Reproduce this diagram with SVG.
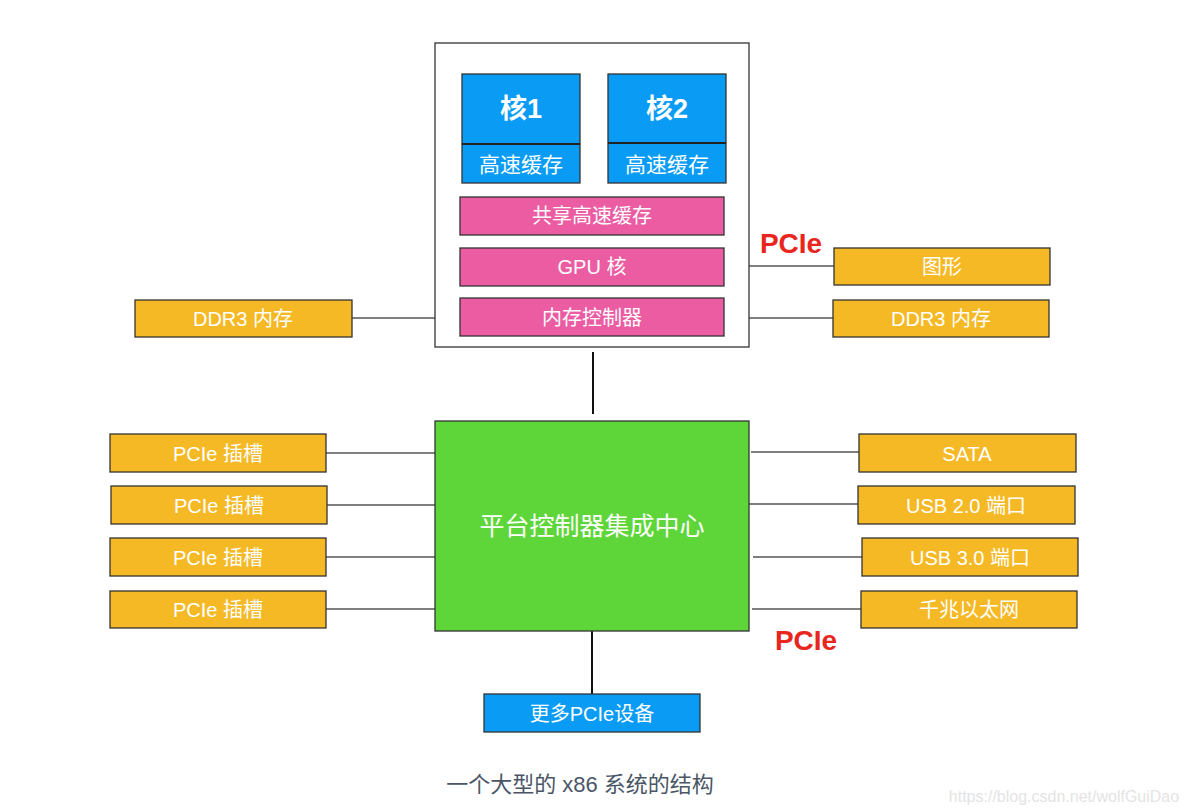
<svg xmlns="http://www.w3.org/2000/svg" width="1188" height="812" viewBox="0 0 1188 812">
<style>
text{font-family:"Liberation Sans","Noto Sans CJK SC",sans-serif;text-anchor:middle;dominant-baseline:central;fill:#fff}
.blue{fill:#0a9cf5;stroke:#333;stroke-width:1.3}
.pink{fill:#ec5ca2;stroke:#333;stroke-width:1.3}
.org{fill:#f5b926;stroke:#333;stroke-width:1.3}
.grn{fill:#5ed63a;stroke:#333;stroke-width:1.3}
.lbl{font-size:20px}
.ln{stroke:#555;stroke-width:1.3;fill:none}
.pcie{fill:#e8261e;font-size:28px;font-weight:bold}
</style>
<rect width="1188" height="812" fill="#fff"/>
<g id="connectors">
<line class="ln" x1="352" y1="318" x2="460" y2="318"/>
<line class="ln" x1="724" y1="318" x2="833" y2="318"/>
<line class="ln" x1="724" y1="266" x2="834" y2="266"/>
<line x1="593" y1="352" x2="593" y2="414" stroke="#111" stroke-width="2"/>
<line x1="592" y1="631" x2="592" y2="694" stroke="#111" stroke-width="2"/>
<line class="ln" x1="326" y1="453" x2="435" y2="453"/>
<line class="ln" x1="327" y1="505" x2="435" y2="505"/>
<line class="ln" x1="326" y1="557" x2="435" y2="557"/>
<line class="ln" x1="326" y1="609" x2="435" y2="609"/>
<line class="ln" x1="751" y1="452" x2="859" y2="452"/>
<line class="ln" x1="749" y1="504" x2="858" y2="504"/>
<line class="ln" x1="753" y1="557" x2="862" y2="557"/>
<line class="ln" x1="752" y1="609" x2="861" y2="609"/>
</g>
<g id="cpu">
<rect x="435" y="43" width="314" height="304" fill="#fff" stroke="#333" stroke-width="1.3"/>
</g>
<g id="core1">
<rect class="blue" x="462" y="74" width="118" height="109"/>
<line x1="462" y1="144" x2="580" y2="144" stroke="#222" stroke-width="2"/>
<text x="521" y="109" style="font-size:27px;font-weight:bold">核1</text>
<text x="521" y="164" style="font-size:21px">高速缓存</text>
</g>
<g id="core2">
<rect class="blue" x="608" y="74" width="118" height="109"/>
<line x1="608" y1="143" x2="726" y2="143" stroke="#222" stroke-width="2"/>
<text x="667" y="109" style="font-size:27px;font-weight:bold">核2</text>
<text x="667" y="164" style="font-size:21px">高速缓存</text>
</g>
<g id="shared-cache">
<rect class="pink" x="460" y="197" width="264" height="38"/>
<text class="lbl" x="592" y="216">共享高速缓存</text>
</g>
<g id="gpu">
<rect class="pink" x="460" y="248" width="264" height="38"/>
<text class="lbl" x="592" y="267">GPU 核</text>
</g>
<g id="memctrl">
<rect class="pink" x="460" y="298" width="264" height="38"/>
<text class="lbl" x="592" y="318">内存控制器</text>
</g>
<g id="ddr3-left">
<rect class="org" x="135" y="300" width="217" height="37"/>
<text class="lbl" x="243" y="319">DDR3 内存</text>
</g>
<g id="graphics">
<rect class="org" x="834" y="248" width="216" height="37"/>
<text class="lbl" x="942" y="267">图形</text>
</g>
<g id="ddr3-right">
<rect class="org" x="833" y="300" width="216" height="37"/>
<text class="lbl" x="941" y="319">DDR3 内存</text>
</g>
<g id="pcie-label-top"><text class="pcie" x="791" y="243">PCIe</text></g>
<g id="pch">
<rect class="grn" x="435" y="421" width="314" height="210"/>
<text x="592" y="526" style="font-size:25px">平台控制器集成中心</text>
</g>
<g id="slot1"><rect class="org" x="110" y="434" width="216" height="38"/><text class="lbl" x="218" y="454">PCIe 插槽</text></g>
<g id="slot2"><rect class="org" x="111" y="486" width="216" height="38"/><text class="lbl" x="219" y="506">PCIe 插槽</text></g>
<g id="slot3"><rect class="org" x="110" y="538" width="216" height="38"/><text class="lbl" x="218" y="558">PCIe 插槽</text></g>
<g id="slot4"><rect class="org" x="110" y="591" width="216" height="37"/><text class="lbl" x="218" y="610">PCIe 插槽</text></g>
<g id="sata"><rect class="org" x="859" y="434" width="217" height="38"/><text class="lbl" x="967" y="454">SATA</text></g>
<g id="usb2"><rect class="org" x="858" y="486" width="217" height="38"/><text class="lbl" x="966" y="506">USB 2.0 端口</text></g>
<g id="usb3"><rect class="org" x="862" y="538" width="216" height="38"/><text class="lbl" x="970" y="558">USB 3.0 端口</text></g>
<g id="gbe"><rect class="org" x="861" y="591" width="216" height="37"/><text class="lbl" x="969" y="610">千兆以太网</text></g>
<g id="pcie-label-bottom"><text class="pcie" x="806" y="640">PCIe</text></g>
<g id="more-pcie">
<rect class="blue" x="484" y="694" width="216" height="38"/>
<text class="lbl" x="592" y="714">更多PCIe设备</text>
</g>
<text x="580" y="784" style="font-size:22px;fill:#4a5666">一个大型的 x86 系统的结构</text>
<text x="1064" y="796" style="font-size:16px;fill:#e4e4e4">https://blog.csdn.net/wolfGuiDao</text>
</svg>
